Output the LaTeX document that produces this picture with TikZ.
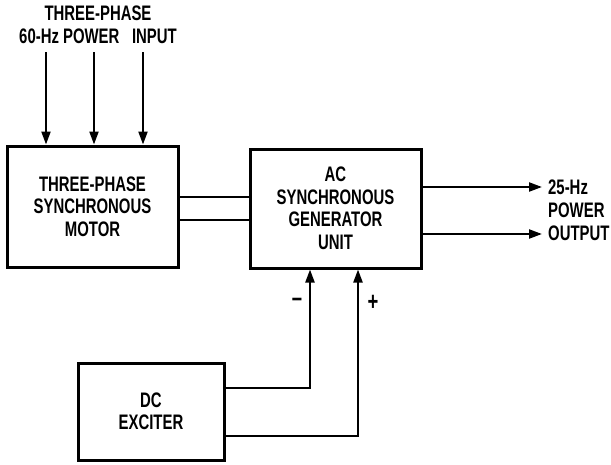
\documentclass[tikz,border=0pt]{standalone}
\usepackage{fontspec}
\setmainfont{Liberation Sans}[FakeStretch=0.71]
\usetikzlibrary{arrows.meta}
\tikzset{
  blockbox/.style={draw, line width=3pt, inner sep=0pt, align=center,
    font=\fontsize{21}{22.5}\selectfont\bfseries},
  wire/.style={line width=2.2pt},
  arr/.style={wire, -{Triangle[length=13pt,width=9pt]}},
  lbl/.style={font=\fontsize{21}{23}\selectfont\bfseries, inner sep=0pt},
  sign/.style={font=\fontsize{26}{26}\selectfont\bfseries, inner sep=0pt}
}
\begin{document}
\begin{tikzpicture}[x=1pt,y=-1pt]
\useasboundingbox (0,0) rectangle (611,464);
\fill[white] (0,0) rectangle (611,464);

\node[blockbox, minimum width=171pt, minimum height=121pt] (motor) at (92.5,206.5)
  {THREE-PHASE\\SYNCHRONOUS\\MOTOR};
\node[blockbox, minimum width=171pt, minimum height=119pt] (gen) at (335.5,208.5)
  {AC\\SYNCHRONOUS\\GENERATOR\\UNIT};
\node[blockbox, minimum width=146pt, minimum height=97pt] (exc) at (151,411.5)
  {DC\\EXCITER};

\node[lbl, align=center] (title) at (98,25)
  {THREE-PHASE\\60-Hz POWER\hspace{0.6em}INPUT};

\coordinate (in1) at (46,52);
\coordinate (in2) at (94,52);
\coordinate (in3) at (143,52);
\draw[arr] (in1) -- (in1 |- motor.north);
\draw[arr] (in2) -- (in2 |- motor.north);
\draw[arr] (in3) -- (in3 |- motor.north);

\coordinate (h1) at (0,197);
\coordinate (h2) at (0,220);
\draw[wire] (motor.east |- h1) -- (gen.west |- h1);
\draw[wire] (motor.east |- h2) -- (gen.west |- h2);

\coordinate (out1) at (542,187);
\coordinate (out2) at (542,234);
\draw[arr] (gen.east |- out1) -- (out1);
\draw[arr] (gen.east |- out2) -- (out2);
\node[lbl, align=left, anchor=west] (outlbl) at (548,210) {25-Hz\\POWER\\OUTPUT};

\coordinate (e1) at (310,388);
\coordinate (e2) at (358,436);
\draw[arr] (exc.east |- e1) -| (e1 |- gen.south);
\draw[arr] (exc.east |- e2) -| (e2 |- gen.south);
\node[sign] (minus) at (297,302) {–};
\node[sign] (plus) at (373,303) {+};
\end{tikzpicture}
\end{document}
